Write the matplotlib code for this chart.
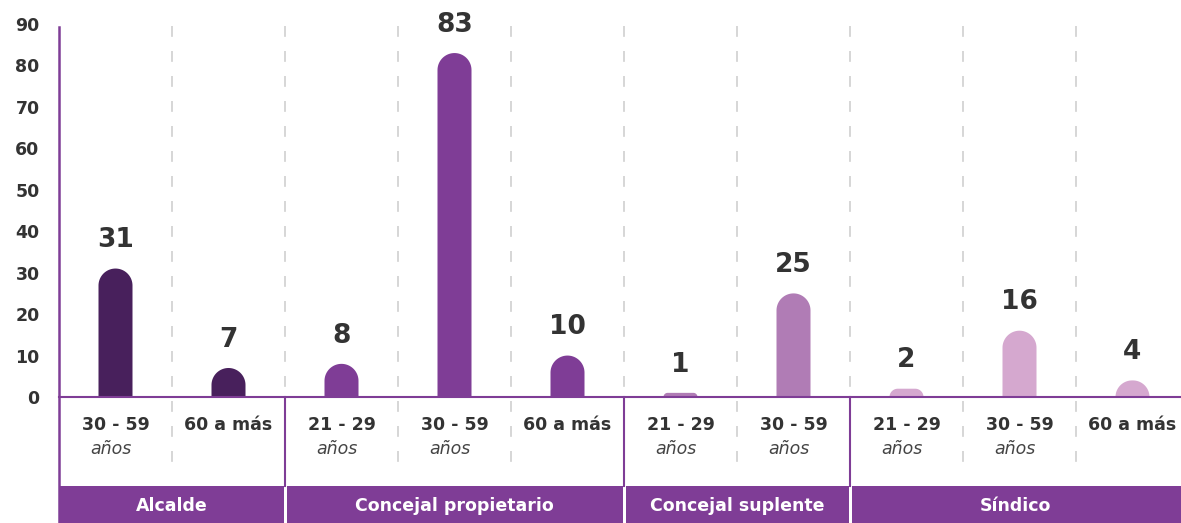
import matplotlib.pyplot as plt
import numpy as np
from matplotlib.patches import Polygon, Rectangle

# Datos
grupos = ["Alcalde", "Concejal propietario", "Concejal suplente", "Síndico"]
edades = [
    ["30 - 59", "60 a más"],
    ["21 - 29", "30 - 59", "60 a más"],
    ["21 - 29", "30 - 59"],
    ["21 - 29", "30 - 59", "60 a más"],
]
valores = [
    [31, 7],
    [8, 83, 10],
    [1, 25],
    [2, 16, 4],
]
colores = ["#48205c", "#7f3d96", "#b07cb5", "#d5a8cf"]

morado = "#7f3d96"
texto = "#333333"

W, H = 1181, 523
n = sum(len(v) for v in valores)
px_x = 113.0                 # pixeles por unidad en x
px_y = 4.144                 # pixeles por unidad en y
izq = 59

fig = plt.figure(figsize=(W / 100, H / 100), dpi=100)
ax = fig.add_axes([izq / W, 0, n * px_x / W, 1])
ax.set_xlim(0, n)
ax.set_ylim(-126 / px_y, 397 / px_y)
for s in ax.spines.values():
    s.set_visible(False)
ax.set_xticks([])
ax.set_yticks(range(0, 100, 10))
ax.tick_params(axis="y", length=0, pad=14)
for lab in ax.get_yticklabels():
    lab.set_fontweight("bold")
    lab.set_fontsize(12.5)
    lab.set_color(texto)


def barra_redonda(xc, v, color, hw=17):
    h = v * px_y
    r = min(hw, h)
    pts = [(-hw, 0), (-hw, h - r)]
    t = np.linspace(np.pi, np.pi / 2, 20)
    pts += list(zip(-hw + r + r * np.cos(t), h - r + r * np.sin(t)))
    t = np.linspace(np.pi / 2, 0, 20)
    pts += list(zip(hw - r + r * np.cos(t), h - r + r * np.sin(t)))
    pts += [(hw, 0)]
    pts = [(xc + px / px_x, py / px_y) for px, py in pts]
    ax.add_patch(Polygon(pts, closed=True, facecolor=color, edgecolor="none", zorder=3))


# lineas punteadas entre columnas
for i in range(1, n):
    ax.plot([i, i], [89.5, -19.1], color="#cfcfcf", lw=1.2,
            linestyle=(0, (6.5, 8.5)), zorder=1, clip_on=False)

i = 0
for g, (grupo, eds, vals) in enumerate(zip(grupos, edades, valores)):
    inicio = i
    for ed, v in zip(eds, vals):
        xc = i + 0.5
        barra_redonda(xc, v, colores[g])
        ax.annotate(str(v), (xc, v), xytext=(0, 11), textcoords="offset points",
                    ha="center", va="bottom", fontsize=19, fontweight="bold",
                    color=texto)
        ax.text(xc, -6.8, ed, ha="center", va="center", fontsize=12.5,
                fontweight="bold", color=texto)
        if "a más" not in ed:
            ax.text(xc - 0.04, -12.6, "años", ha="center", va="center",
                    fontsize=12.5, style="italic", color="#444444",
                    fontweight="light")
        i += 1
    # banda del grupo
    x0 = inicio + (1.5 / px_x if inicio > 0 else 0)
    ax.add_patch(Rectangle((x0, -126 / px_y), i - x0 - 1.0 / px_x, 37 / px_y,
                           facecolor=morado, edgecolor="none", clip_on=False, zorder=2))
    xm = (inicio + min(i, (W - izq) / px_x)) / 2
    ax.text(xm, -26.3, grupo, ha="center", va="center",
            fontsize=12.5, fontweight="bold", color="white", zorder=4)
    if inicio > 0:
        ax.plot([inicio, inicio], [0, -21.5], color=morado, lw=1.5, zorder=2)

# ejes
ax.plot([0, n], [0, 0], color=morado, lw=1.5, zorder=4, clip_on=False)
ax.plot([0, 0], [89.3, -126 / px_y], color=morado, lw=1.8, zorder=4, clip_on=False)

plt.savefig("out.png", dpi=100)
